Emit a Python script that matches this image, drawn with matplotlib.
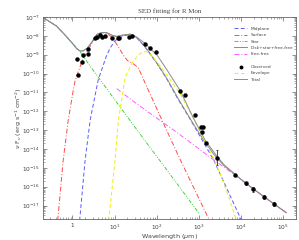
import numpy as np
import matplotlib
matplotlib.use('Agg')
import matplotlib.pyplot as plt
from matplotlib.lines import Line2D
from matplotlib import ticker

# values (log10 wavelength in um, log10 nu F_nu)
star_lw = [-0.70, -0.52, -0.38, -0.20, 0.00, 0.18, 0.40, 0.66, 1.00, 1.56, 2.00, 2.50, 3.00]
star_lf = [-7.02, -7.28, -7.48, -7.90, -8.40, -8.84, -9.55, -10.34, -11.38, -13.08, -14.40, -15.90, -17.42]

surf_lw = [-0.35, -0.22, -0.10, 0.02, 0.06, 0.25, 0.46, 0.58, 0.70, 0.81, 0.95, 1.05, 1.20, 1.30,
           1.45, 1.56, 1.69, 2.12, 2.56, 3.24]
surf_lf = [-17.8, -14.6, -12.46, -10.87, -10.40, -9.20, -8.40, -7.95, -7.84, -7.86, -8.10, -8.45, -9.00,
           -9.30, -9.50, -9.68, -10.34, -12.46, -14.59, -17.75]

mid_lw = [0.17, 0.30, 0.42, 0.61, 0.80, 0.89, 1.01, 1.21, 1.37, 1.53, 1.73, 2.00, 2.24, 2.50, 2.80,
          3.35, 4.00]
mid_lf = [-17.8, -14.59, -12.46, -10.34, -9.10, -8.66, -8.25, -8.00, -7.93, -8.12, -8.62, -9.45, -10.30,
          -11.35, -12.46, -14.59, -17.75]

env_lw = [0.86, 1.01, 1.09, 1.25, 1.41, 1.53, 1.61, 1.69, 1.77, 1.85, 2.00, 2.24, 2.56, 2.92, 3.10,
          3.30, 3.50, 3.70, 3.88]
env_lf = [-17.8, -14.59, -12.46, -10.20, -9.46, -9.10, -8.93, -8.85, -8.84, -9.00, -9.37, -10.08, -11.10,
          -12.60, -13.40, -14.30, -15.30, -16.50, -17.75]

ff_lw = [1.05, 1.40, 1.80, 2.40, 2.80, 3.30, 3.85, 4.30, 4.78, 5.07]
ff_lf = [-10.80, -11.40, -12.05, -13.00, -13.66, -14.50, -15.38, -16.14, -16.92, -17.38]

dsf_lw = [-0.70, -0.52, -0.38, -0.20, 0.00, 0.10, 0.18, 0.25, 0.35, 0.46, 0.58, 0.70, 0.81, 0.95, 1.05,
          1.20, 1.37, 1.53, 1.73, 2.00, 2.24, 2.50, 2.80, 3.10, 3.35, 3.60, 3.99, 4.30, 4.78, 5.07]
dsf_lf = [-7.02, -7.28, -7.48, -7.90, -8.40, -8.68, -8.80, -8.80, -8.66, -8.33, -7.92, -7.82, -7.83, -7.98,
          -8.03, -7.96, -7.91, -8.10, -8.60, -9.44, -10.27, -11.30, -12.43, -13.50, -14.28, -14.90, -15.60,
          -16.14, -16.92, -17.38]

tot_lw = [-0.70, -0.52, -0.38, -0.20, 0.00, 0.10, 0.18, 0.25, 0.35, 0.46, 0.58, 0.70, 0.81, 0.95, 1.05,
          1.20, 1.37, 1.45, 1.53, 1.65, 1.73, 1.85, 2.00, 2.24, 2.56, 2.87, 3.15, 3.43, 3.60, 3.99, 4.30,
          4.78, 5.07]
tot_lf = [-7.02, -7.28, -7.48, -7.90, -8.40, -8.68, -8.80, -8.80, -8.66, -8.33, -7.92, -7.82, -7.83, -7.98,
          -8.03, -7.96, -7.91, -7.97, -8.08, -8.28, -8.41, -8.70, -9.00, -9.80, -10.93, -12.37, -13.55,
          -14.40, -14.85, -15.60, -16.14, -16.92, -17.38]

obs_lw = [0.119, 0.138, 0.226, 0.238, 0.357, 0.369, 0.536, 0.590, 0.655, 0.695, 0.774, 0.933, 1.090,
          1.114, 1.329, 1.410, 1.726, 1.845, 1.980, 2.560, 2.662, 2.917, 3.052, 3.100, 3.076, 3.155,
          3.433, 3.852, 4.107, 4.290, 4.543, 4.781]
obs_lf = [-9.21, -10.08, -9.39, -9.02, -8.96, -8.72, -8.10, -8.05, -7.95, -8.05, -8.01, -8.13, -8.13,
          -8.10, -8.06, -8.01, -8.45, -8.63, -8.87, -10.93, -11.14, -12.20, -12.82, -12.85, -13.08, -13.70,
          -14.46, -15.38, -15.82, -16.14, -16.56, -16.92]
# error bar half-length in dex
obs_err = [0, 0, 0, 0, 0, 0, 0, 0, 0, 0, 0, 0, 0, 0, 0, 0, 0, 0, 0, 0, 0, 0, 0, 0, 0, 0,
           0.40, 0.05, 0.08, 0.12, 0.10, 0.12]

x_major = [1e0, 1e1, 1e2, 1e3, 1e4, 1e5]
y_major = [10.0 ** e for e in range(-17, -6)]


def lin(lw, lf):
    return 10 ** np.array(lw), 10 ** np.array(lf)


def xfmt(v, pos):
    n = int(round(np.log10(v)))
    if n == 0:
        return '1'
    return r'$10^{%d}$' % n


def minors(lo_exp, hi_exp, vmin, vmax):
    out = []
    for e in range(lo_exp, hi_exp + 1):
        for m in range(2, 10):
            v = m * 10.0 ** e
            if vmin < v < vmax:
                out.append(v)
    return out


fig = plt.figure(figsize=(2.99, 2.40), dpi=100)
ax = fig.add_axes([43 / 299, 1 - 218.7 / 240, 253 / 299, 201.7 / 240])

lw = 0.7
ax.plot(*lin(mid_lw, mid_lf), color='#5a5aff', ls=(0, (4, 2.5)), lw=lw, label='Midplane')
ax.plot(*lin(surf_lw, surf_lf), color='#ff4a4a', ls=(0, (5, 2, 1, 2)), lw=lw, label='Surface')
ax.plot(*lin(star_lw, star_lf), color='#3fd63f', ls=(0, (4, 1.5, 1, 1.5, 1, 1.5)), lw=lw, label='Star')
ax.plot(*lin(dsf_lw, dsf_lf), color='#8c8c8c', ls='-', lw=lw, label='Disk+star+free-free')
ax.plot(*lin(ff_lw, ff_lf), color='#ff5cff', ls=(0, (5, 2, 1, 2)), lw=lw, label='Free-free')
ax.plot(*lin(env_lw, env_lf), color='#f0f000', ls=(0, (4, 2.5)), lw=lw, label='Envelope')
ax.plot(*lin(tot_lw, tot_lf), color='#8c8c8c', ls='-', lw=lw, label='Total')

ox, oy = lin(obs_lw, obs_lf)
oe = np.array(obs_err)
lo = oy - oy * 10 ** (-oe)
hi = oy * 10 ** oe - oy
ax.errorbar(ox, oy, yerr=[lo, hi], fmt='o', color='black', ms=2.2, elinewidth=0.6, capsize=1,
            capthick=0.6, ecolor='#333333', zorder=5)

xmin, xmax = 0.2, 2e5
ymin, ymax = 10 ** -17.7, 1e-7
ax.set_xscale('log')
ax.set_yscale('log')
ax.set_xlim(xmin, xmax)
ax.set_ylim(ymin, ymax)

tc = '#444444'
for s in ax.spines.values():
    s.set_color('#666666')
    s.set_linewidth(0.6)
ax.xaxis.set_major_locator(ticker.FixedLocator(x_major))
ax.xaxis.set_major_formatter(ticker.FuncFormatter(xfmt))
ax.xaxis.set_minor_locator(ticker.FixedLocator(minors(-1, 5, xmin, xmax)))
ax.xaxis.set_minor_formatter(ticker.NullFormatter())
ax.yaxis.set_major_locator(ticker.FixedLocator(y_major))
ax.yaxis.set_major_formatter(ticker.FuncFormatter(lambda v, p: r'$10^{%d}$' % int(round(np.log10(v)))))
ax.yaxis.set_minor_locator(ticker.FixedLocator(minors(-18, -8, ymin, ymax)))
ax.yaxis.set_minor_formatter(ticker.NullFormatter())
ax.tick_params(which='both', direction='in', top=True, right=True, colors='#666666',
               labelcolor=tc, labelsize=4.2)
ax.tick_params(axis='y', pad=2)
ax.tick_params(axis='x', pad=3)
ax.tick_params(which='major', length=3, width=0.5)
ax.tick_params(which='minor', length=1.5, width=0.4)

ax.set_title('SED fitting for R Mon', fontsize=5, color=tc, family='Liberation Serif', pad=3)
ax.set_xlabel(r'Wavelength ($\mu$m)', fontsize=4.6, color=tc, labelpad=0)
ax.set_ylabel(r'$\nu$ F$_\nu$ (erg s$^{-1}$ cm$^{-2}$)', fontsize=4.6, color=tc, labelpad=-1)

handles, labels = ax.get_legend_handles_labels()
blank = Line2D([], [], ls='none')
obs_h = Line2D([], [], ls='none', marker='o', color='black', ms=1.8)
order = ['Midplane', 'Surface', 'Star', 'Disk+star+free-free', 'Free-free']
hmap = dict(zip(labels, handles))
hs = [hmap[k] for k in order] + [blank, obs_h, hmap['Envelope'], hmap['Total']]
ls_ = order + [' ', 'Observed', 'Envelope', 'Total']
leg = ax.legend(hs, ls_, loc='upper left', bbox_to_anchor=(0.75, 0.96), frameon=False, fontsize=3.1,
                handlelength=3.0, handletextpad=0.8, labelspacing=0.55, borderaxespad=0)
for t in leg.get_texts():
    t.set_color(tc)

fig.savefig('out.png', dpi=100)
